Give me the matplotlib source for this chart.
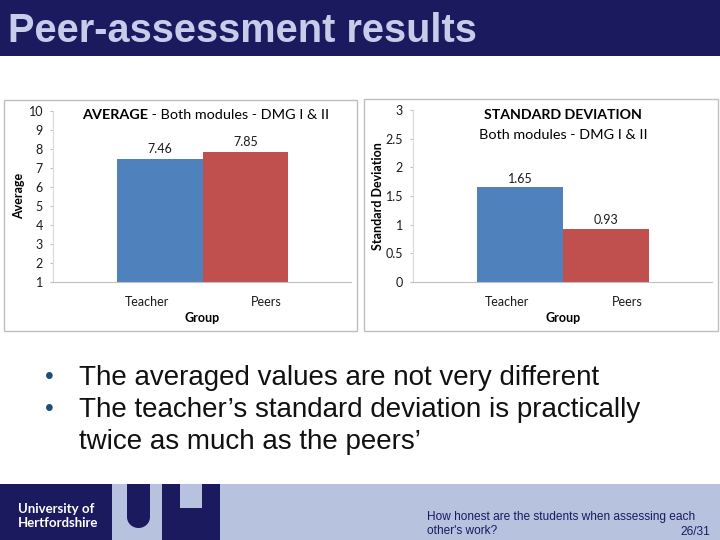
import matplotlib
matplotlib.use("Agg")
import matplotlib.pyplot as plt
from matplotlib.patches import Rectangle, Ellipse

# ---- data ----
groups = ["Teacher", "Peers"]
avg_values = [7.46, 7.85]
std_values = [1.65, 0.93]
avg_label_text = ["7.46", "7.85"]
std_label_text = ["1.65", "0.93"]
avg_ticks = [1, 2, 3, 4, 5, 6, 7, 8, 9, 10]
std_ticks = [0, 0.5, 1, 1.5, 2, 2.5, 3]
std_ticklabels = ["0", "0.5", "1", "1.5", "2", "2.5", "3"]
slide_title = "Peer-assessment results"
bullets = ["The averaged values are not very different",
           "The teacher\u2019s standard deviation is practically",
           "twice as much as the peers\u2019"]
footer_lines = ["How honest are the students when assessing each", "other's work?"]
page = "26/31"

W, H = 720, 540
NAVY = "#1b1a5e"
LAV = "#b7c2df"
BLUE = "#4f81bd"
RED = "#c0504d"
CF = ["Lato", "DejaVu Sans"]
AF = ["Liberation Sans", "DejaVu Sans"]

fig = plt.figure(figsize=(7.2, 5.4), dpi=100)
fig.patch.set_facecolor("white")

def fx(px):
    return px / W

def fy(py):
    return 1 - py / H

def rect(x0, y0, x1, y1, **kw):
    fig.patches.append(Rectangle((fx(x0), fy(y1)), fx(x1) - fx(x0), fy(y0) - fy(y1),
                                 transform=fig.transFigure, **kw))

# title bar
rect(0, 0, W, 56, facecolor=NAVY, edgecolor="none")
fig.text(fx(8), fy(42), slide_title, color="#c5cdea", fontsize=28.6, fontweight="bold",
         family=AF, ha="left", va="baseline")

# footer
rect(0, 484, W, H, facecolor=LAV, edgecolor="none")
rect(0, 484, 112, H, facecolor=NAVY, edgecolor="none")
rect(127, 484, 150, 517, facecolor=NAVY, edgecolor="none")
fig.patches.append(Ellipse((fx(138.5), fy(517)), fx(23), 22 / H,
                           transform=fig.transFigure, facecolor=NAVY, edgecolor="none"))
rect(162, 484, 180, H, facecolor=NAVY, edgecolor="none")
rect(180, 508, 202, H, facecolor=NAVY, edgecolor="none")
rect(202, 484, 220, H, facecolor=NAVY, edgecolor="none")
fig.text(fx(18), fy(509), "University of", color="white", fontsize=9.5, fontweight="bold",
         family=CF, ha="left", va="center")
fig.text(fx(18), fy(523), "Hertfordshire", color="white", fontsize=9.5, fontweight="bold",
         family=CF, ha="left", va="center")
fig.text(fx(427), fy(517), footer_lines[0], color="#1b1a5e", fontsize=8.6, family=AF,
         ha="left", va="center")
fig.text(fx(427), fy(531), footer_lines[1], color="#1b1a5e", fontsize=8.6, family=AF,
         ha="left", va="center")
fig.text(fx(710), fy(532), page, color="#1b1a5e", fontsize=8.6, family=AF,
         ha="right", va="center")

# bullets
line_base = [385, 417, 449]
for i, t in enumerate(bullets):
    if i < 2:
        fig.text(fx(49), fy(line_base[i] - 8), "\u2022", color="#1f4e79", fontsize=18,
                 family=AF, ha="center", va="center")
    fig.text(fx(79), fy(line_base[i]), t, color="#111111", fontsize=20, family=AF,
             ha="left", va="baseline")

# chart panels
rect(3.5, 99.5, 357, 331, facecolor="none", edgecolor="#bfbfbf", linewidth=1)
rect(363.5, 99.5, 718, 330.5, facecolor="none", edgecolor="#bfbfbf", linewidth=1)

bar_left = [0.215, 0.503]
bar_width = [0.288, 0.287]
tick_pos = [0.315, 0.715]

def make_axes(x0, ytop, x1, ybot):
    ax = fig.add_axes([fx(x0), fy(ybot), fx(x1) - fx(x0), fy(ytop) - fy(ybot)])
    ax.set_facecolor("none")
    for s in ["top", "right"]:
        ax.spines[s].set_visible(False)
    ax.spines["left"].set_color("#d9d9d9")
    ax.spines["bottom"].set_color("#bfbfbf")
    ax.set_xlim(0, 1)
    ax.tick_params(axis="y", length=2.2, color="#bfbfbf", labelsize=9, pad=5,
                   labelcolor="#1a1a1a")
    ax.tick_params(axis="x", length=0, labelsize=9, pad=10, labelcolor="#1a1a1a")
    return ax

# left: average
ax1 = make_axes(53, 111, 351, 282)
ax1.bar(bar_left, avg_values, width=bar_width, align="edge", color=[BLUE, RED], zorder=2)
ax1.set_ylim(1, 10)
ax1.set_yticks(avg_ticks)
ax1.set_yticklabels([str(v) for v in avg_ticks], family=CF)
ax1.set_xticks(tick_pos)
ax1.set_xticklabels(groups, family=CF)
for xl, w, v, t in zip(bar_left, bar_width, avg_values, avg_label_text):
    ax1.annotate(t, (xl + w / 2, v), xytext=(0, 3), textcoords="offset points",
                 ha="center", va="bottom", fontsize=9, family=CF, color="#1a1a1a")
ax1.set_ylabel("Average", fontsize=9, fontweight="bold", family=CF)
ax1.yaxis.set_label_coords(fx(19), fy(196), transform=fig.transFigure)
ax1.set_xlabel("Group", fontsize=9, fontweight="bold", family=CF)
ax1.xaxis.set_label_coords(fx(202), fy(318), transform=fig.transFigure)
ax1.xaxis.label.set_va("center")
ax1.yaxis.label.set_va("center")
t1 = fig.text(fx(82), fy(115), "AVERAGE", fontsize=10.4, fontweight="bold", family=CF,
              ha="left", va="center")
ax1.annotate(" - Both modules - DMG I & II", xy=(1, 0.5), xycoords=t1, va="center",
             ha="left", fontsize=10.4, family=CF)

# right: standard deviation
ax2 = make_axes(413, 110, 712, 282)
ax2.bar(bar_left, std_values, width=bar_width, align="edge", color=[BLUE, RED], zorder=2)
ax2.set_ylim(0, 3)
ax2.set_yticks(std_ticks)
ax2.set_yticklabels(std_ticklabels, family=CF)
ax2.set_xticks(tick_pos)
ax2.set_xticklabels(groups, family=CF)
for xl, w, v, t in zip(bar_left, bar_width, std_values, std_label_text):
    ax2.annotate(t, (xl + w / 2, v), xytext=(0, 2), textcoords="offset points",
                 ha="center", va="bottom", fontsize=9, family=CF, color="#1a1a1a")
ax2.set_ylabel("Standard Deviation", fontsize=9, fontweight="bold", family=CF)
ax2.yaxis.set_label_coords(fx(378), fy(196), transform=fig.transFigure)
ax2.set_xlabel("Group", fontsize=9, fontweight="bold", family=CF)
ax2.xaxis.set_label_coords(fx(563), fy(318), transform=fig.transFigure)
ax2.xaxis.label.set_va("center")
ax2.yaxis.label.set_va("center")
fig.text(fx(563), fy(115), "STANDARD DEVIATION", fontsize=10.2, fontweight="bold", family=CF,
         ha="center", va="center")
fig.text(fx(563), fy(135), "Both modules - DMG I & II", fontsize=10.4, family=CF,
         ha="center", va="center")

fig.savefig("out.png", dpi=100)
